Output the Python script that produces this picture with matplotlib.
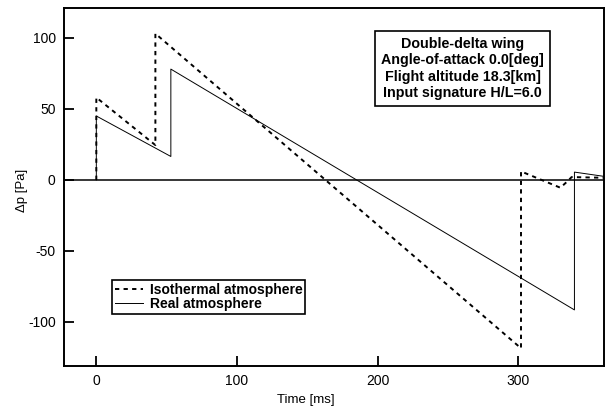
import matplotlib
matplotlib.use("Agg")
import matplotlib.pyplot as plt

plt.rcParams['font.family'] = ['Liberation Sans', 'DejaVu Sans']
plt.rcParams['axes.unicode_minus'] = False

# Pressure signatures at the ground (time in ms, overpressure in Pa)
iso_time = [0, 0, 42, 42, 302, 302, 330, 335, 338, 361]
iso_dp = [0, 58, 24.5, 103, -118.5, 6, -5.5, -1, 2, 1.5]

real_time = [0, 0, 53, 53, 340, 340, 361]
real_dp = [0, 45, 16.5, 78, -91.5, 5.5, 2.5]

x_ticks = [0, 100, 200, 300]
y_ticks = [-100, -50, 0, 50, 100]

info_lines = [
    "Double-delta wing",
    "Angle-of-attack 0.0[deg]",
    "Flight altitude 18.3[km]",
    "Input signature H/L=6.0",
]

fig = plt.figure(figsize=(6.07, 4.07), dpi=100)
ax = fig.add_axes([0.1054, 0.1007, 0.8896, 0.8796])

ax.axhline(0, color='black', lw=1.1, zorder=1)
ax.plot(iso_time, iso_dp, color='black', lw=1.4, ls=(0, (2.2, 2.2)),
        label='Isothermal atmosphere', zorder=3)
ax.plot(real_time, real_dp, color='black', lw=0.7, label='Real atmosphere', zorder=2)

ax.set_xlim(-23, 361)
ax.set_ylim(-131, 121)
ax.set_xticks(x_ticks)
ax.set_yticks(y_ticks)
ax.tick_params(direction='in', length=7, width=1.3, labelsize=10, pad=6,
               top=False, right=False)
for sp in ax.spines.values():
    sp.set_linewidth(1.4)

ax.set_xlabel("Time [ms]", fontsize=9.5, x=0.448, labelpad=4)
ax.set_ylabel("Δp [Pa]", fontsize=9.5)
ax.yaxis.set_label_coords(-0.067, 0.49)

ax.text(0.738, 0.831, "\n".join(info_lines), transform=ax.transAxes,
        ha='center', va='center', fontsize=10.3, fontweight='bold',
        linespacing=1.22, multialignment='center',
        bbox=dict(boxstyle='square,pad=0.4', fc='white', ec='black', lw=1.2))

leg = ax.legend(loc='lower left', bbox_to_anchor=(0.089, 0.145),
                borderaxespad=0, prop={'weight': 'bold', 'size': 10},
                handlelength=2.0, handletextpad=0.5, borderpad=0.2,
                labelspacing=0.05, fancybox=False, framealpha=1,
                edgecolor='black')
leg.get_frame().set_linewidth(1.2)

fig.savefig("out.png", dpi=100)
